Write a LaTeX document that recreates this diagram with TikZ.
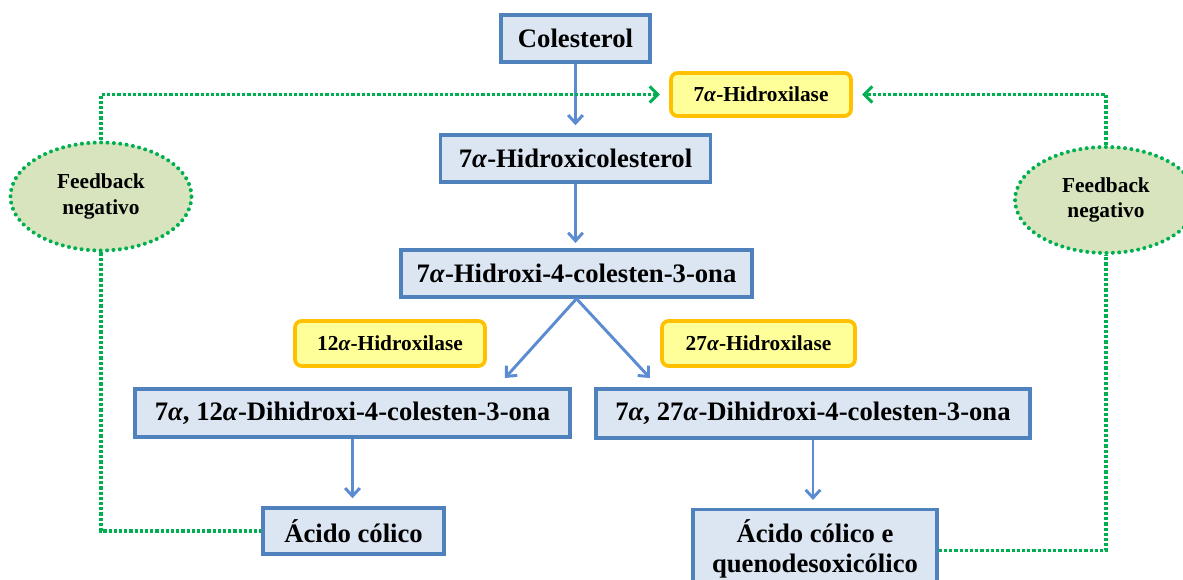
\documentclass[tikz,border=0pt]{standalone}
\usepackage{fontspec}
\setmainfont{Liberation Serif}
\usetikzlibrary{arrows.meta,shapes.geometric}
\definecolor{boxfill}{HTML}{DCE6F2}
\definecolor{boxdraw}{HTML}{4F81BD}
\definecolor{arrowc}{HTML}{5B8BD0}
\definecolor{enzfill}{HTML}{FFFF99}
\definecolor{enzdraw}{HTML}{FFC000}
\definecolor{fbgreen}{HTML}{00B050}
\definecolor{fbfill}{HTML}{D7E4BD}
\newcommand{\al}{\textit{α}}
\begin{document}
\begin{tikzpicture}[x=0.75pt,y=-0.75pt,
  mainbox/.style={draw=boxdraw, fill=boxfill, line width=2.6pt, inner sep=0pt,
    font=\bfseries\fontsize{20}{22.5}\selectfont, align=center},
  enzbox/.style={draw=enzdraw, fill=enzfill, line width=2.8pt, rounded corners=5pt, inner sep=0pt,
    font=\bfseries\fontsize{16}{18}\selectfont},
  fbell/.style={ellipse, draw=fbgreen, fill=fbfill, line width=3pt, dash pattern=on 0pt off 4.8pt,
    line cap=round, inner sep=0pt, align=center, font=\bfseries\fontsize{16}{19}\selectfont},
  flow/.style={draw=arrowc, line width=2.2pt, -{Straight Barb[length=6pt,width=11pt,line width=2.2pt]}},
  fbline/.style={draw=fbgreen, line width=2.6pt, dash pattern=on 2.4pt off 1.5pt},
  fbarrow/.style={fbline, -{Straight Barb[length=6pt,width=12pt,line width=2.2pt]}}
]
\useasboundingbox (0,0) rectangle (1183,580);
\clip (0,0) rectangle (1183,580);

% main boxes
\node[mainbox, minimum width={149*0.75pt}, minimum height={47*0.75pt}] (col) at (575.5,38.5) {Colesterol};
\node[mainbox, minimum width={270*0.75pt}, minimum height={47*0.75pt}] (hc) at (575.5,158.5) {7\al-Hidroxicolesterol};
\node[mainbox, minimum width={351*0.75pt}, minimum height={47*0.75pt}] (hco) at (576.5,273.5) {7\al-Hidroxi-4-colesten-3-ona};
\node[mainbox, minimum width={435*0.75pt}, minimum height={48*0.75pt}] (d12) at (352.5,413) {7\al, 12\al-Dihidroxi-4-colesten-3-ona};
\node[mainbox, minimum width={434*0.75pt}, minimum height={49*0.75pt}] (d27) at (813,413.5) {7\al, 27\al-Dihidroxi-4-colesten-3-ona};
\node[mainbox, minimum width={181*0.75pt}, minimum height={46*0.75pt}] (ac) at (353.5,531) {Ácido cólico};
\node[mainbox, minimum width={244*0.75pt}, minimum height={78*0.75pt}, anchor=north] (aq) at (815,508) {Ácido cólico e\\quenodesoxicólico};

% enzymes
\node[enzbox, minimum width={180*0.75pt}, minimum height={43*0.75pt}] (e7) at (761,94.5) {7\al-Hidroxilase};
\node[enzbox, minimum width={190*0.75pt}, minimum height={45*0.75pt}] (e12) at (390,343.5) {12\al-Hidroxilase};
\node[enzbox, minimum width={193*0.75pt}, minimum height={45*0.75pt}] (e27) at (758.5,343.5) {27\al-Hidroxilase};

% feedback ellipses
\node[fbell, minimum width={181*0.75pt}, minimum height={108*0.75pt}] (fbl) at (101,196.5) {Feedback\\negativo};
\node[fbell, minimum width={182*0.75pt}, minimum height={106*0.75pt}] (fbr) at (1106,200) {Feedback\\negativo};

% flow arrows
\coordinate (t12) at (505,378);
\coordinate (t27) at (650,378);
\draw[flow, shorten >=6pt] (col) -- (col |- hc.north);
\draw[flow, shorten >=4pt] (hc) -- (hc |- hco.north);
\draw[flow] (hco.south) -- (t12);
\draw[flow] (hco.south) -- (t27);
\draw[flow, shorten >=6pt] (d12.south) -- (d12.south |- ac.north);
\draw[flow, shorten >=6pt] (d27.south) -- (d27.south |- aq.north);

% feedback lines
\draw[fbarrow, shorten >=7pt] (fbl.north) |- (e7.west);
\draw[fbarrow, shorten >=7pt] (fbr.north) |- (e7.east);
\draw[fbline] (fbl.south) |- (ac.west);
\draw[fbline] (aq.east) ++(0,2) coordinate (aqe) (aqe) -| (fbr.south);
\end{tikzpicture}
\end{document}
